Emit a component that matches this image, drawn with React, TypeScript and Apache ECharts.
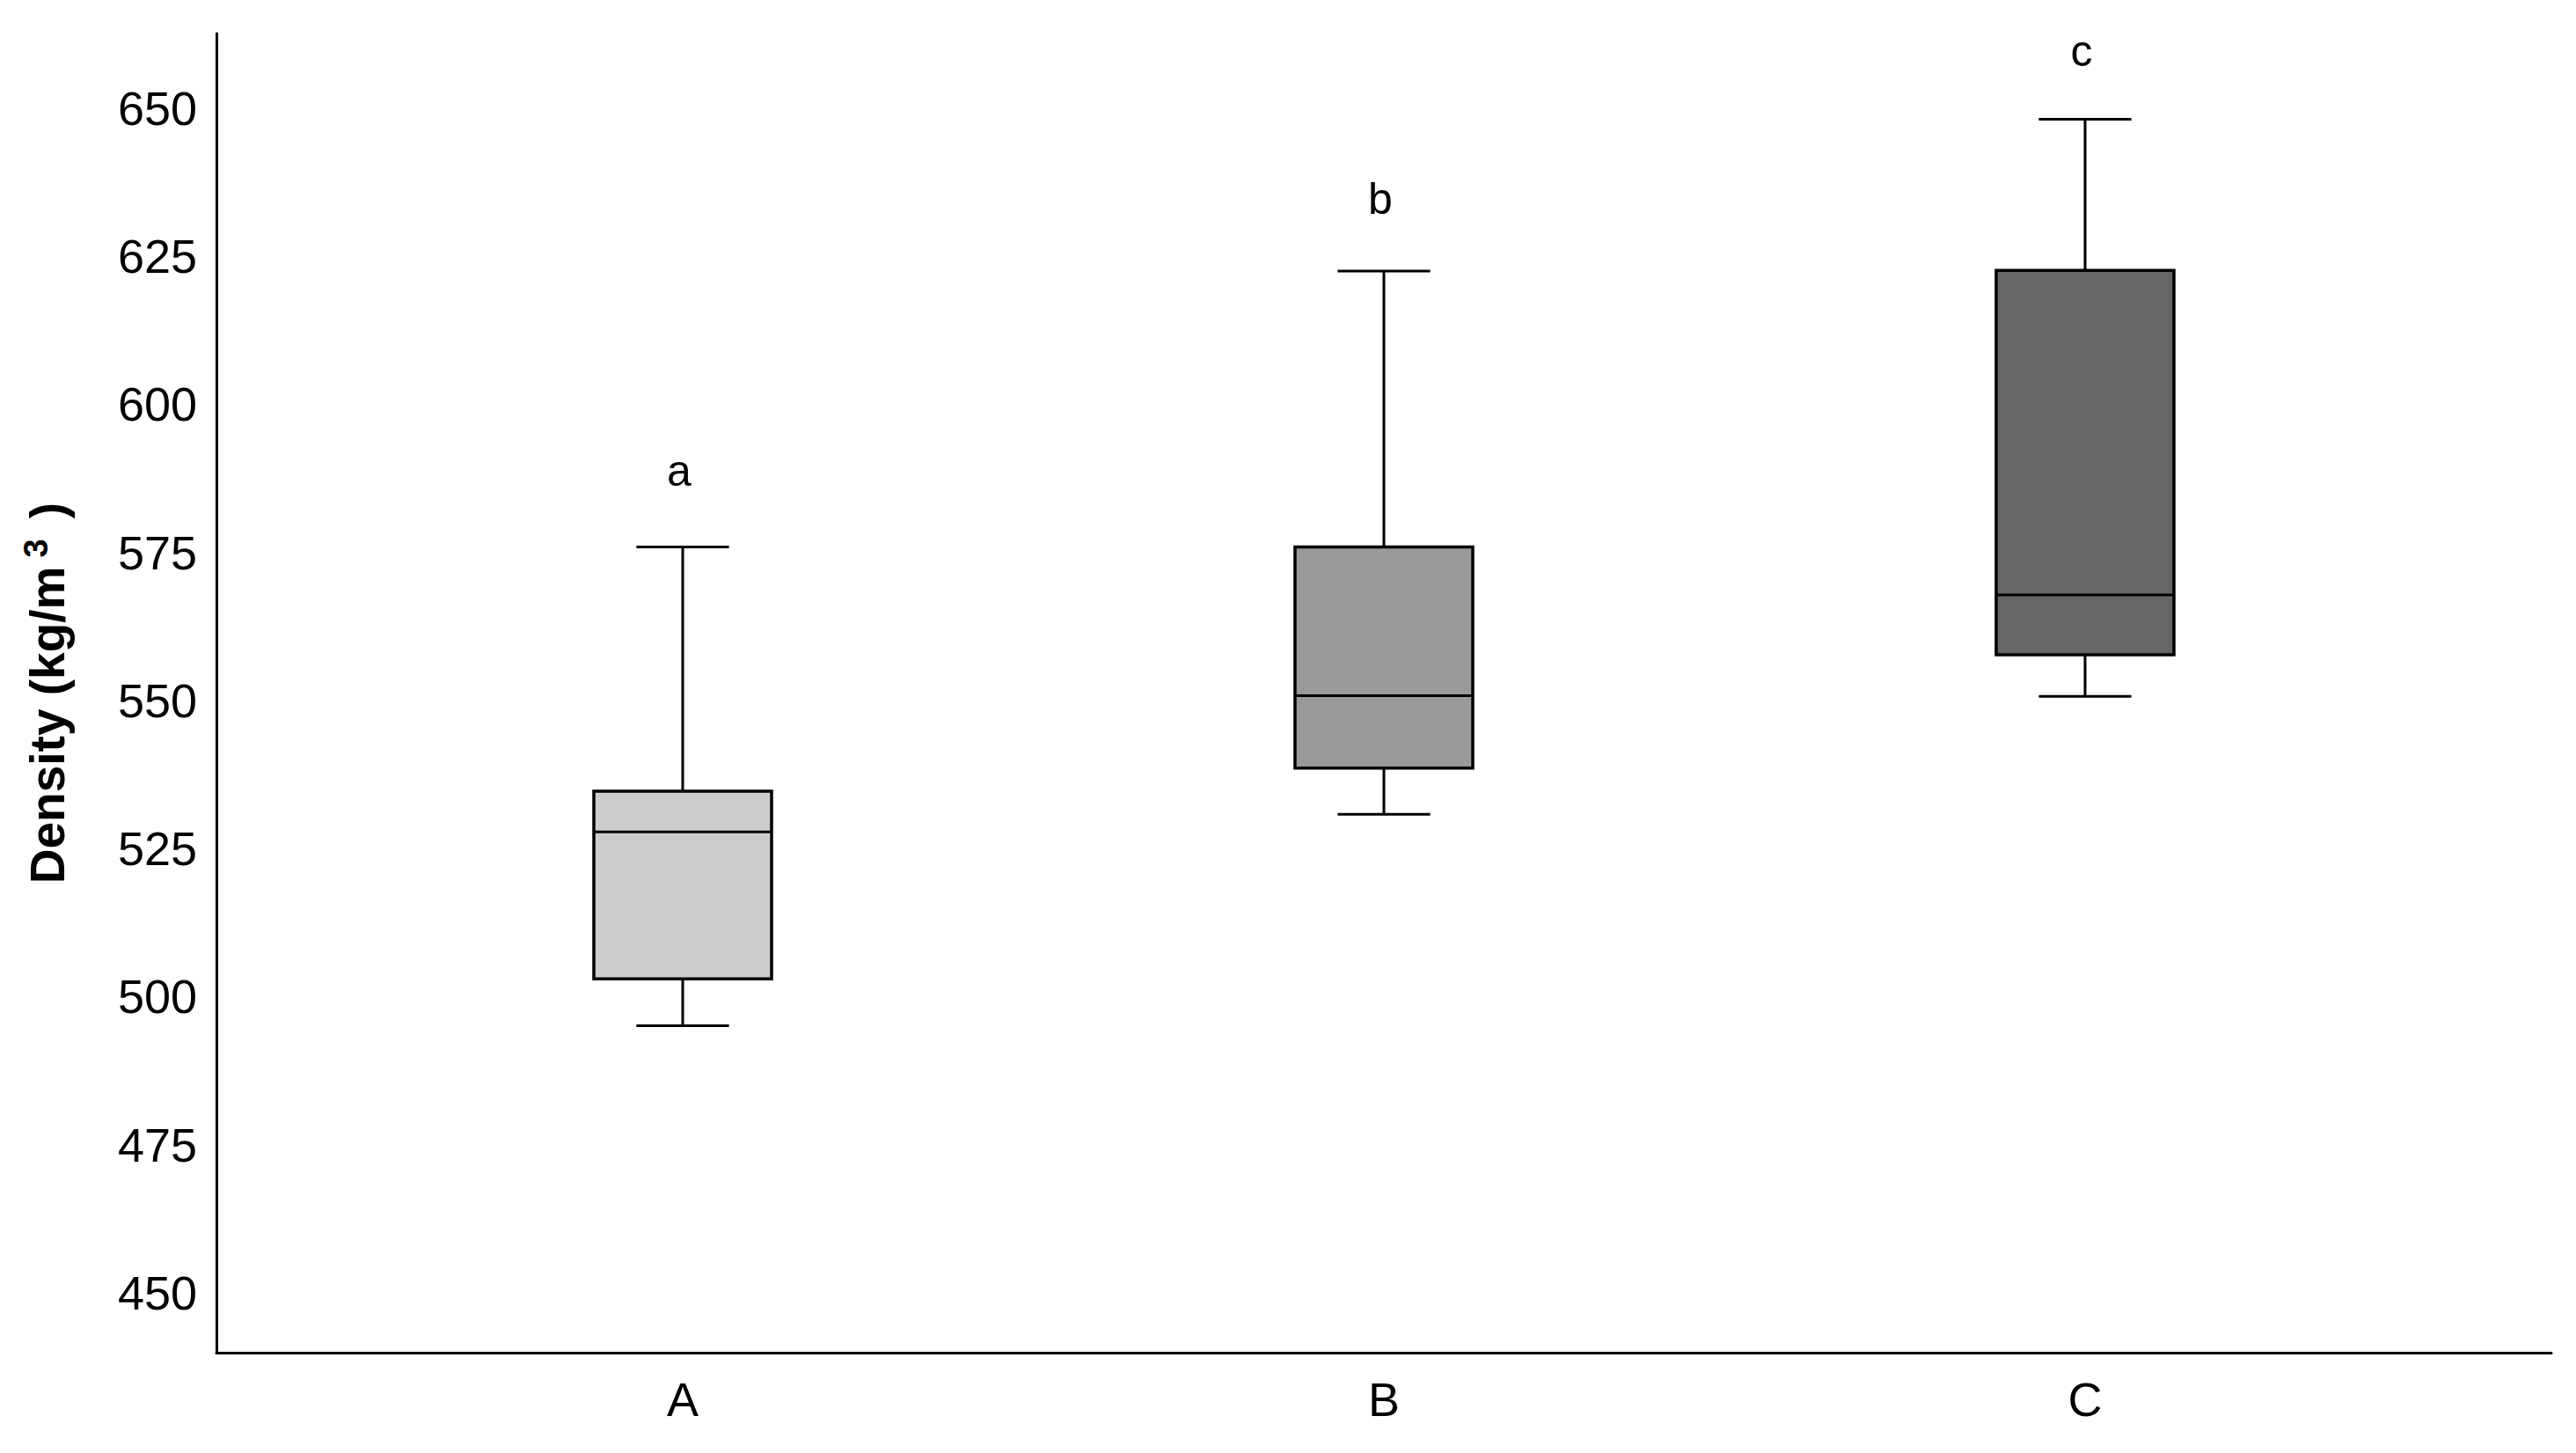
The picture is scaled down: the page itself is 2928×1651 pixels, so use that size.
import React, { useEffect, useRef } from "react";
import * as echarts from "echarts";

const categories = ["A", "B", "C"];
// [low whisker, Q1, median, Q3, high whisker]
const boxStats = [
  [495.1, 503.0, 527.8, 534.7, 575.9],
  [530.8, 538.6, 550.8, 575.9, 622.5],
  [550.7, 557.7, 567.8, 622.6, 648.1],
];
const boxColors = ["#cccccc", "#999999", "#666666"];
const groupLetters = ["a", "b", "c"];
const letterY = [588.7, 634.6, 659.7];
const yTicks = [450, 475, 500, 525, 550, 575, 600, 625, 650];

const FONT = "'Liberation Sans', Arial, sans-serif";

export default function App() {
  const ref = useRef<HTMLDivElement>(null);

  useEffect(() => {
    if (!ref.current) return;
    const chart = echarts.init(ref.current, undefined, { renderer: "svg" });
    const data = boxStats.map((s, i) => [i + 1, ...s]);
    const BOX_W = 0.2535;
    const CAP_W = 0.132;
    const option: any = {
      animation: false,
      backgroundColor: "#ffffff",
      grid: {
        left: 246,
        right: 28,
        top: 38,
        bottom: 114,
        containLabel: false,
        outerBoundsMode: "none",
      },
      xAxis: {
        type: "value",
        min: 0.335,
        max: 3.665,
        splitLine: { show: false },
        axisTick: { show: false },
        axisLine: { onZero: false, lineStyle: { color: "#000", width: 3 } },
        axisLabel: {
          customValues: [1, 2, 3],
          formatter: (v: number) => categories[Math.round(v) - 1] ?? "",
          color: "#000",
          fontFamily: FONT,
          fontSize: 54,
          margin: 26,
        },
      },
      yAxis: {
        type: "value",
        min: 439.9,
        max: 662.6,
        splitLine: { show: false },
        axisTick: { show: false },
        axisLine: { onZero: false, lineStyle: { color: "#000", width: 3 } },
        axisLabel: {
          customValues: yTicks,
          color: "#000",
          fontFamily: FONT,
          fontSize: 54,
          margin: 22,
        },
        name: "{a|Density (kg/m}{s|3}{a| )}",
        nameLocation: "middle",
        nameRotate: 90,
        nameGap: 160,
        nameTextStyle: {
          rich: {
            a: {
              fontFamily: FONT,
              fontWeight: "bold",
              fontSize: 55,
              color: "#000",
              lineHeight: 64,
            },
            s: {
              fontFamily: FONT,
              fontWeight: "bold",
              fontSize: 38,
              color: "#000",
              lineHeight: 38,
              verticalAlign: "top",
              padding: [0, 8, 0, 10],
            },
          },
        },
      },
      series: [
        {
          type: "custom",
          data,
          encode: { x: 0, y: [1, 2, 3, 4, 5] },
          renderItem: (params: any, api: any) => {
            const idx = params.dataIndex;
            const x = api.value(0);
            const lo = api.coord([x, api.value(1)]);
            const q1 = api.coord([x, api.value(2)]);
            const md = api.coord([x, api.value(3)]);
            const q3 = api.coord([x, api.value(4)]);
            const hi = api.coord([x, api.value(5)]);
            const bw = api.size([BOX_W, 0])[0];
            const cw = api.size([CAP_W, 0])[0];
            const cx = lo[0];
            const lt = api.coord([x, letterY[idx]]);
            const line = (x1: number, y1: number, x2: number, y2: number) => ({
              type: "line",
              shape: { x1, y1, x2, y2 },
              style: { stroke: "#000", lineWidth: 3 },
            });
            return {
              type: "group",
              children: [
                line(cx, hi[1], cx, q3[1]),
                line(cx, q1[1], cx, lo[1]),
                line(cx - cw / 2, hi[1], cx + cw / 2, hi[1]),
                line(cx - cw / 2, lo[1], cx + cw / 2, lo[1]),
                {
                  type: "rect",
                  shape: { x: cx - bw / 2, y: q3[1], width: bw, height: q1[1] - q3[1] },
                  style: { fill: boxColors[idx], stroke: "#000", lineWidth: 3.5 },
                },
                line(cx - bw / 2, md[1], cx + bw / 2, md[1]),
                {
                  type: "text",
                  x: lt[0] - 4,
                  y: lt[1],
                  style: {
                    text: groupLetters[idx],
                    fill: "#000",
                    font: `50px ${FONT}`,
                    align: "center",
                    verticalAlign: "middle",
                  },
                },
              ],
            };
          },
        },
      ],
    };
    chart.setOption(option);
    return () => chart.dispose();
  }, []);

  return <div ref={ref} style={{ width: 2928, height: 1651, margin: -8 }} />;
}
